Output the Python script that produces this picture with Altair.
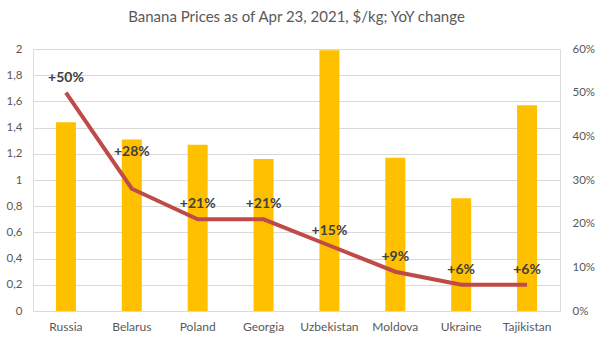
import altair as alt
import pandas as pd

countries = ["Russia", "Belarus", "Poland", "Georgia", "Uzbekistan", "Moldova", "Ukraine", "Tajikistan"]
prices = [1.44, 1.31, 1.27, 1.16, 1.99, 1.17, 0.86, 1.57]
yoy = [0.50, 0.28, 0.21, 0.21, 0.15, 0.09, 0.06, 0.06]
left_ticks = [0, 0.2, 0.4, 0.6, 0.8, 1.0, 1.2, 1.4, 1.6, 1.8, 2.0]
right_ticks = [0, 0.1, 0.2, 0.3, 0.4, 0.5, 0.6]

df = pd.DataFrame({"country": countries, "price": prices, "yoy": yoy})

FONT = "Lato"
GRAY = "#595959"

x = alt.X("country:N", sort=countries, title=None,
          scale=alt.Scale(paddingInner=0, paddingOuter=0),
          axis=alt.Axis(labelAngle=0, ticks=False, domain=False, labelPadding=10,
                        labelFontSize=12, labelColor=GRAY, labelFont=FONT))

bars = alt.Chart(df).mark_bar(size=20, color="#FFC000").encode(
    x=x,
    y=alt.Y("price:Q", title=None,
            scale=alt.Scale(domain=[0, 2], nice=False, zero=True),
            axis=alt.Axis(values=left_ticks, orient="left", ticks=False, domain=False,
                          grid=True, gridColor="#D9D9D9", labelPadding=11,
                          labelFontSize=11.5, labelColor=GRAY, labelFont=FONT,
                          labelExpr="replace(format(datum.value, '.1~f'), '.', ',')")),
)

yr = alt.Y("yoy:Q", title=None,
           scale=alt.Scale(domain=[0, 0.6], nice=False),
           axis=alt.Axis(values=right_ticks, orient="right", format=".0%", ticks=False,
                         domain=False, grid=False, labelPadding=12,
                         labelFontSize=11.5, labelColor=GRAY, labelFont=FONT))

line = alt.Chart(df).mark_line(color="#BE4B48", strokeWidth=4).encode(x=x, y=yr)

base_text = alt.Chart(df).transform_calculate(
    label="'+' + format(datum.yoy, '.0%')"
)
text_main = base_text.transform_filter("datum.country != 'Belarus'").mark_text(
    dy=-15, fontSize=14, fontWeight="bold", color="#404040", font=FONT
).encode(x=x, y=yr, text="label:N")
text_by = base_text.transform_filter("datum.country == 'Belarus'").mark_text(
    dy=-37, fontSize=14, fontWeight="bold", color="#404040", font=FONT
).encode(x=x, y=yr, text="label:N")

right = alt.layer(line, text_main, text_by)

chart = alt.layer(bars, right).resolve_scale(y="independent").properties(
    width=527, height=262,
    title=alt.TitleParams("Banana Prices as of Apr 23, 2021, $/kg; YoY change",
                          fontSize=15, color=GRAY, font=FONT, fontWeight="normal",
                          offset=18, anchor="middle"),
    autosize=alt.AutoSizeParams(type="none"),
    padding={"left": 33, "top": 49, "right": 40, "bottom": 40},
).configure_view(stroke=None).configure(background="white")

chart.save("out.html", embed_options={"renderer": "svg", "actions": False})
